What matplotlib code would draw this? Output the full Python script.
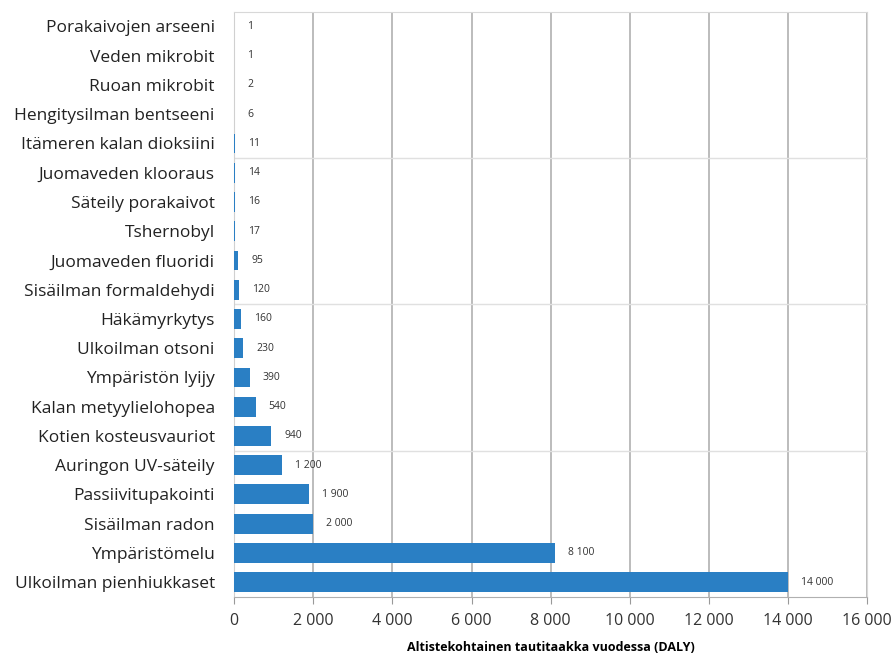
import matplotlib.pyplot as plt
from matplotlib.ticker import FuncFormatter, MultipleLocator

categories = ['Porakaivojen arseeni', 'Veden mikrobit', 'Ruoan mikrobit',
              'Hengitysilman bentseeni', 'Itämeren kalan dioksiini',
              'Juomaveden klooraus', 'Säteily porakaivot', 'Tshernobyl',
              'Juomaveden fluoridi', 'Sisäilman formaldehydi', 'Häkämyrkytys',
              'Ulkoilman otsoni', 'Ympäristön lyijy', 'Kalan metyylielohopea',
              'Kotien kosteusvauriot', 'Auringon UV-säteily', 'Passiivitupakointi',
              'Sisäilman radon', 'Ympäristömelu', 'Ulkoilman pienhiukkaset']
values = [1, 1, 2, 6, 11, 14, 16, 17, 95, 120, 160, 230, 390, 540, 940,
          1200, 1900, 2000, 8100, 14000]


def fmt(v):
    return f'{v:,.0f}'.replace(',', ' ')


plt.rcParams['font.family'] = ['Open Sans', 'DejaVu Sans']

fig = plt.figure(figsize=(8.94, 6.58), dpi=100)
ax = fig.add_axes([0.262, 0.093, 0.708, 0.889])

y = list(range(len(categories)))
ax.barh(y, values, height=0.68, color='#2a7fc4', zorder=3)
for yi, v in zip(y, values):
    ax.text(v + 330, yi, fmt(v), va='center', ha='left', fontsize=7.5, color='#333333')

ax.set_ylim(len(categories) - 0.5, -0.5)
ax.set_xlim(0, 16000)
ax.xaxis.set_major_locator(MultipleLocator(2000))
ax.xaxis.set_major_formatter(FuncFormatter(lambda v, p: fmt(v)))

ax.set_yticks(y)
ax.set_yticklabels(categories, fontsize=12.5, color='#222222')
ax.set_yticks([4.5, 9.5, 14.5], minor=True)
ax.tick_params(axis='y', which='both', length=0, pad=14)
ax.tick_params(axis='x', length=5, color='#999999', labelsize=11.5, labelcolor='#333333', pad=7)

ax.grid(axis='x', color='#b0b0b0', linewidth=1.2, zorder=0)
ax.grid(axis='y', which='minor', color='#e0e0e0', linewidth=1.0, zorder=0)

for s in ['top', 'right']:
    ax.spines[s].set_color('#d8d8d8')
ax.spines['left'].set_color('#d0d0d0')
ax.spines['bottom'].set_color('#b0b0b0')

ax.set_xlabel('Altistekohtainen tautitaakka vuodessa (DALY)', fontsize=9,
              fontweight='bold', labelpad=8)

fig.savefig('out.png', dpi=100)
